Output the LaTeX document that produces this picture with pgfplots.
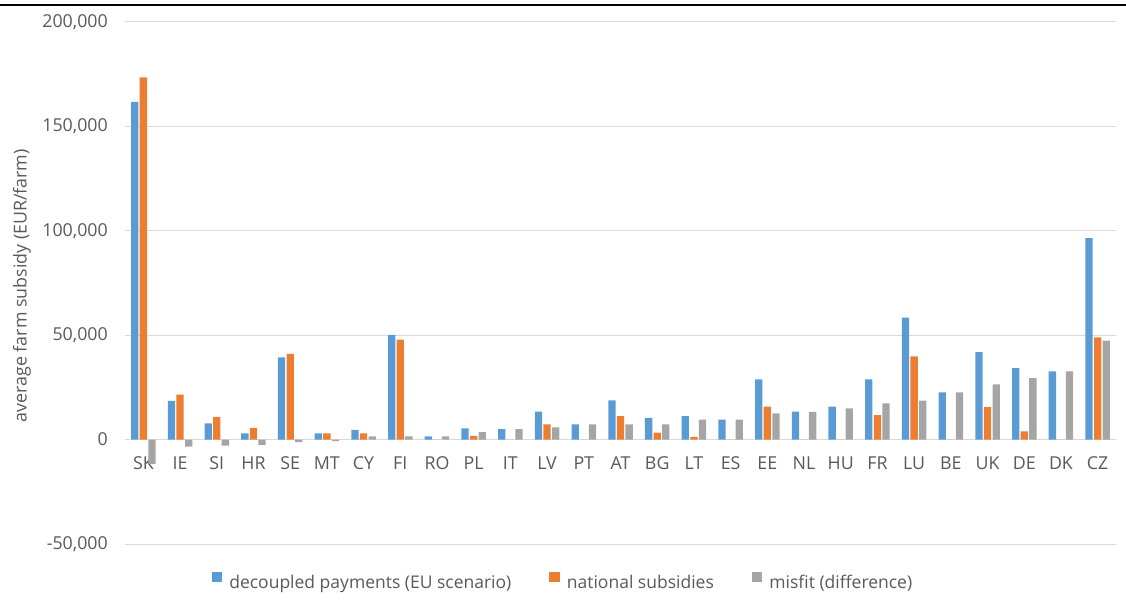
\documentclass[border=0pt]{standalone}
\usepackage{fontspec}
\setmainfont{Open Sans}
\usepackage{pgfplots}
\pgfplotsset{compat=1.18}
\usepackage{pgfplotstable}
\definecolor{cblue}{HTML}{5B9BD5}
\definecolor{corange}{HTML}{ED7D31}
\definecolor{cgray}{HTML}{A5A5A5}
\definecolor{gridgray}{HTML}{D9D9D9}
\definecolor{textgray}{HTML}{595959}

\pgfplotsset{sqlegend/.style={legend image code/.code={\fill[##1] (0pt,0.5pt) rectangle (10.5pt,11pt);}}}

\pgfplotstableread{
idx cat blue orange gray
0  SK 161800 173500 -11700
1  IE 18500  21600  -3400
2  SI 7800   10900  -2900
3  HR 3000   5600   -2600
4  SE 39400  41000  -1200
5  MT 3000   3000   -700
6  CY 4600   3000   1600
7  FI 50100  47900  1600
8  RO 1600   0      1600
9  PL 5400   1800   3600
10 IT 5000   0      5000
11 LV 13400  7300   5800
12 PT 7300   0      7300
13 AT 18800  11200  7300
14 BG 10400  3400   7300
15 LT 11200  1300   9600
16 ES 9600   0      9600
17 EE 28900  15800  12600
18 NL 13400  0      13300
19 HU 15800  0      15000
20 FR 28800  11700  17300
21 LU 58400  39800  18700
22 BE 22600  0      22600
23 UK 41900  15600  26400
24 DE 34200  3900   29500
25 DK 32700  0      32700
26 CZ 96500  49000  47400
}\datatable

\begin{document}
\begin{tikzpicture}
\useasboundingbox (0pt,0pt) rectangle (1126pt,603pt);
\draw[black, line width=1.6pt] (0pt,598pt) -- (1126pt,598pt);
\begin{axis}[
  at={(125pt,59pt)}, anchor=south west,
  scale only axis, width=991pt, height=522pt,
  ybar=1.3pt, bar width=7.3pt,
  xmin=-0.5, xmax=26.5, ymin=-50000, ymax=200000,
  xtick=data,
  xticklabels={SK,IE,SI,HR,SE,MT,CY,FI,RO,PL,IT,LV,PT,AT,BG,LT,ES,EE,NL,HU,FR,LU,BE,UK,DE,DK,CZ},
  ytick={-50000,0,50000,100000,150000,200000},
  scaled y ticks=false,
  ymajorgrids, grid style={draw=gridgray, line width=1pt},
  axis line style={draw=none},
  major tick length=0pt,
  /pgf/number format/assume math mode=true,
  yticklabel style={/pgf/number format/fixed, /pgf/number format/1000 sep={,}, anchor=east, inner sep=0pt, xshift=-17pt},
  xticklabel style={anchor=center, inner sep=0pt, yshift=81pt},
  tick label style={font=\fontsize{17.8}{20}\selectfont, text=textgray},
  ylabel={average farm subsidy (EUR/farm)},
  ylabel style={at={(axis description cs:-0.104,0.495)}, anchor=center, font=\fontsize{17.8}{20}\selectfont, text=textgray},
  legend style={at={(axis description cs:0.442,-0.0728)}, anchor=center, draw=none, fill=none,
    font=\fontsize{17.5}{20}\selectfont, text=textgray,
    /tikz/every odd column/.append style={column sep=5pt},
    /tikz/every even column/.append style={column sep=36pt}},
  legend columns=3,
]
\addplot[fill=cblue, draw=none, sqlegend] table[x=idx, y=blue] {\datatable};
\addplot[fill=corange, draw=none, sqlegend] table[x=idx, y=orange] {\datatable};
\addplot[fill=cgray, draw=none, sqlegend] table[x=idx, y=gray] {\datatable};
\legend{decoupled payments (EU scenario), national subsidies, misfit (difference)}
\end{axis}
\end{tikzpicture}
\end{document}
